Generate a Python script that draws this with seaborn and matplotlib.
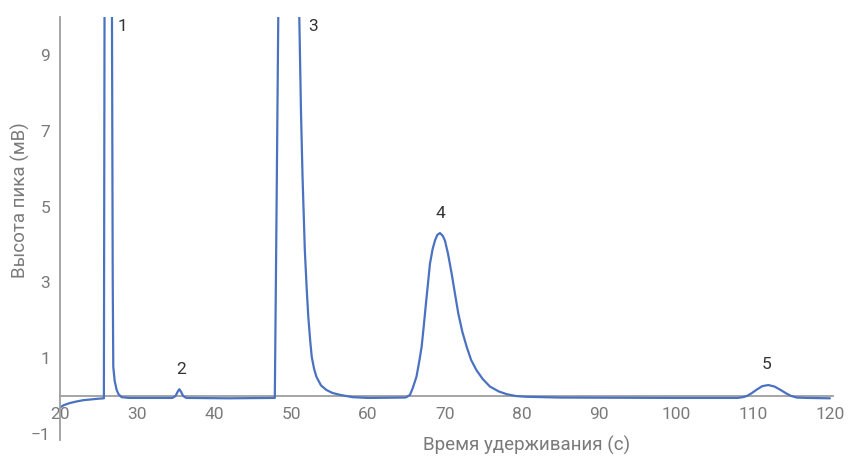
import pandas as pd
import seaborn as sns
import matplotlib.pyplot as plt

# Chromatogram points (time in s, signal in mV)
time = [20.0, 20.5, 21.2, 22.0, 23.0, 24.0, 25.0, 25.7,
        25.8, 26.2, 26.7, 26.75, 26.85, 26.92, 27.1, 27.36, 27.6, 28.0, 29.0,
        34.6, 35.0, 35.3, 35.5, 35.7, 36.0, 36.4,
        42.0, 47.9, 48.13, 48.35, 48.6, 49.5, 50.5, 51.08, 51.3, 51.5, 51.8,
        52.05, 52.25, 52.5, 52.7, 53.0, 53.3, 53.9, 54.6, 55.4, 56.4, 58.0, 60.0,
        64.8, 65.0, 65.45, 65.8, 66.3, 66.65, 66.97, 67.25, 67.53, 67.8, 68.05,
        68.4, 68.7, 69.0, 69.35, 69.7, 70.0, 70.4, 70.87, 71.3, 71.73, 72.25,
        72.82, 73.4, 74.1, 74.9, 75.84, 77.0, 78.0, 79.2, 80.6,
        85.0, 100.0, 108.0, 108.7, 109.2, 109.8, 110.5, 111.2,
        112.0, 112.8, 113.6, 114.4, 115.0, 115.7, 117.0, 120.0]
signal = [-0.30, -0.24, -0.19, -0.15, -0.11, -0.09, -0.07, -0.06,
          12.0, 40.0, 12.0, 10.0, 3.0, 0.77, 0.40, 0.16, 0.05, -0.03, -0.05,
          -0.05, 0.0, 0.12, 0.18, 0.12, 0.0, -0.05,
          -0.06, -0.05, 5.0, 10.0, 18.0, 25.0, 18.0, 10.0, 7.5, 5.8, 3.84,
          2.8, 2.09, 1.45, 1.03, 0.72, 0.51, 0.28, 0.16, 0.08, 0.03, -0.03, -0.05,
          -0.04, -0.03, 0.03, 0.20, 0.51, 0.90, 1.30, 1.85, 2.44, 2.98, 3.49,
          3.88, 4.10, 4.25, 4.30, 4.23, 4.10, 3.75, 3.23, 2.70, 2.18, 1.70,
          1.30, 0.95, 0.68, 0.45, 0.25, 0.12, 0.05, 0.0, -0.02,
          -0.04, -0.05, -0.05, -0.03, 0.0, 0.07, 0.17, 0.26,
          0.29, 0.25, 0.16, 0.06, 0.0, -0.04, -0.05, -0.06]

# Peak numbers and where they are written
peak_labels = ['1', '2', '3', '4', '5']
label_x = [28.05, 35.7, 52.9, 69.35, 111.8]
label_y = [9.76, 0.71, 9.74, 4.82, 0.84]

x_ticks = [20, 30, 40, 50, 60, 70, 80, 90, 100, 110, 120]
y_ticks = [-1, 1, 3, 5, 7, 9]

df = pd.DataFrame({'time': time, 'signal': signal})

sns.set_style('white')
plt.rcParams['font.family'] = ['Roboto', 'DejaVu Sans']

fig = plt.figure(figsize=(8.51, 4.57), dpi=100)
ax = fig.add_axes([60 / 851, 1 - 440 / 457, 773 / 851, 423 / 457])

sns.lineplot(data=df, x='time', y='signal', sort=False, estimator=None,
             color='#4a72c0', linewidth=1.6, ax=ax)

for lab, lx, ly in zip(peak_labels, label_x, label_y):
    ax.text(lx, ly, lab, ha='center', va='center', fontsize=12.5, color='#333333')

ax.set_xlim(20, 120.4)
ax.set_ylim(-1.16, 10)
ax.set_xticks(x_ticks)
ax.set_yticks(y_ticks)
ax.set_yticklabels(['\u22121' if t < 0 else str(t) for t in y_ticks])

gray = '#9e9e9e'
for side in ['top', 'right']:
    ax.spines[side].set_visible(False)
ax.spines['bottom'].set_position(('data', 0))
ax.spines['bottom'].set_color(gray)
ax.spines['left'].set_color(gray)
ax.spines['bottom'].set_linewidth(1.3)
ax.spines['left'].set_linewidth(1.3)
ax.spines['bottom'].set_zorder(1)

ax.tick_params(axis='x', length=0, pad=8, labelsize=12.5, labelcolor='#7a7a7a')
ax.tick_params(axis='y', length=0, pad=7, labelsize=12.5, labelcolor='#7a7a7a')

ax.set_xlabel('')
ax.set_ylabel('')
fig.text(527 / 851, 1 - 445 / 457, 'Время удерживания (с)', ha='center', va='center',
         fontsize=13.5, color='#7a7a7a')
fig.text(20 / 851, 1 - 200 / 457, 'Высота пика (мВ)', ha='center', va='center',
         rotation=90, fontsize=13.5, color='#7a7a7a')

fig.savefig('out.png', dpi=100)
